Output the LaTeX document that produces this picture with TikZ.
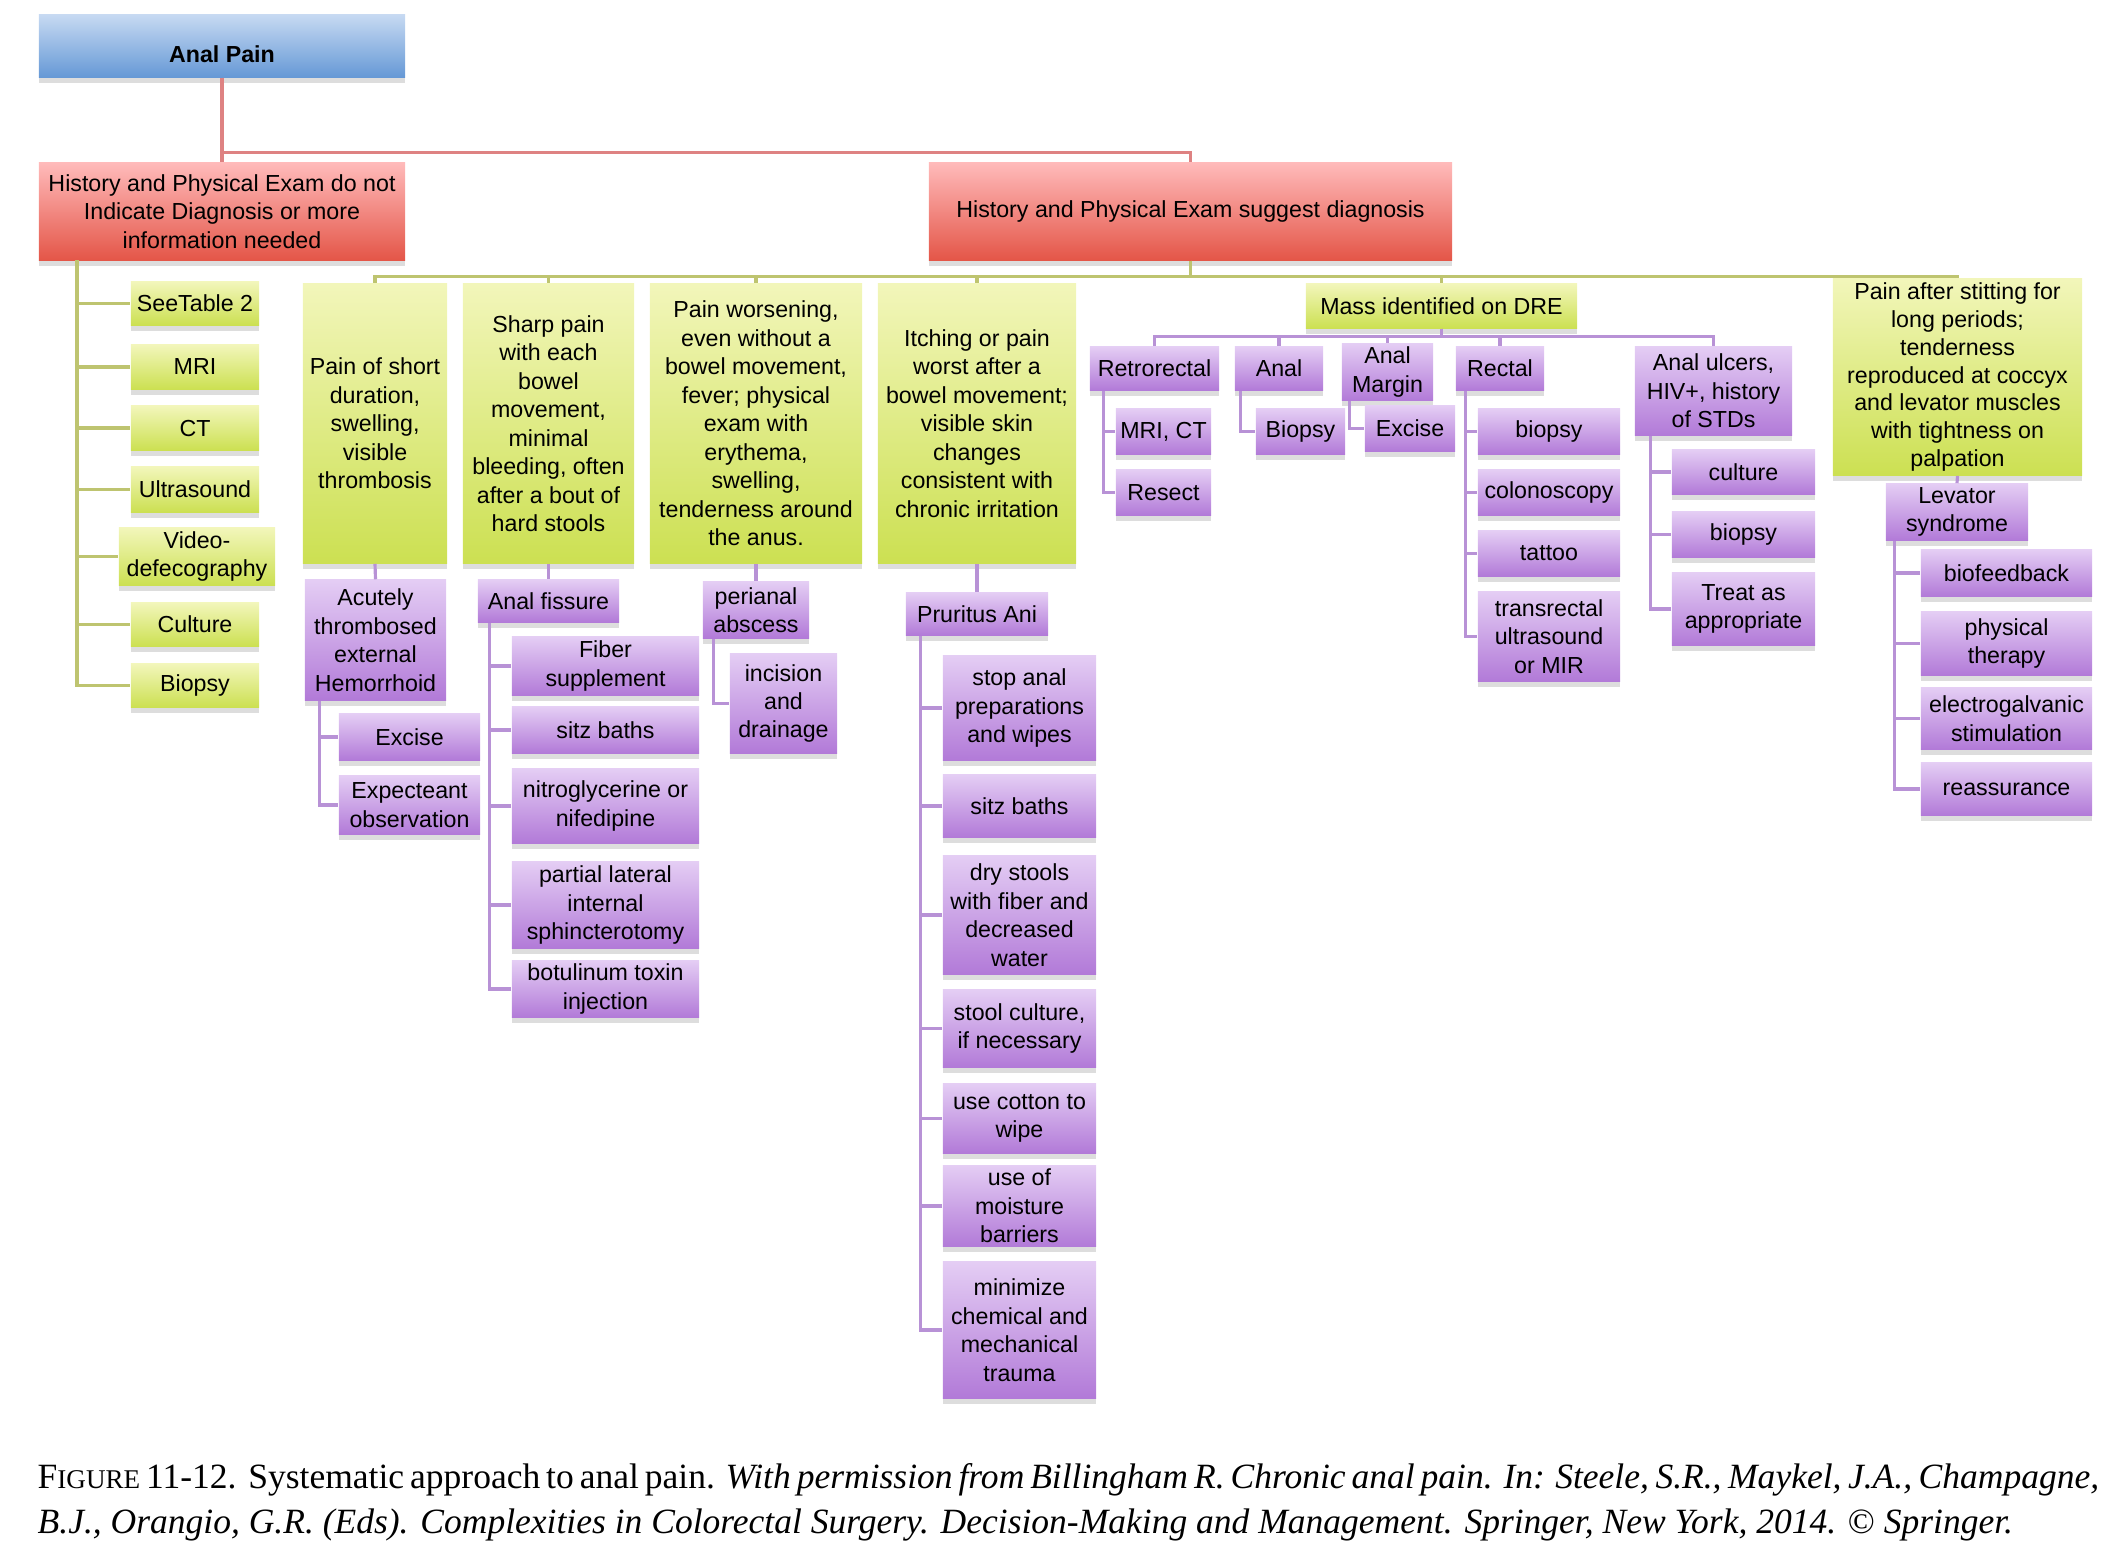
\documentclass[tikz,border=0pt]{standalone}
\usepackage{fontspec}
\setmainfont{Liberation Serif}
\setsansfont{Liberation Sans}
\usetikzlibrary{shadows}

\definecolor{bluetop}{RGB}{198,217,242}
\definecolor{bluebot}{RGB}{102,153,214}
\definecolor{redtop}{RGB}{255,186,186}
\definecolor{redbot}{RGB}{228,86,72}
\definecolor{greentop}{RGB}{242,246,186}
\definecolor{greenbot}{RGB}{204,224,82}
\definecolor{purptop}{RGB}{228,205,244}
\definecolor{purpbot}{RGB}{178,122,216}
\definecolor{redwire}{RGB}{222,130,130}
\definecolor{olivewire}{RGB}{190,196,112}
\definecolor{purpwire}{RGB}{184,146,214}

\tikzset{
  nodebox/.style={font=\sffamily\fontsize{6.6}{8.1}\selectfont, align=center, inner sep=1pt,
    drop shadow={opacity=0.22, fill=black!60, shadow xshift=0pt, shadow yshift=-1.6pt}},
  boxsize/.style 2 args={minimum width=#1mm, minimum height=#2mm},
  rootbox/.style={nodebox, top color=bluetop, bottom color=bluebot,
    font=\sffamily\bfseries\fontsize{6.6}{8.1}\selectfont, text height=9.3pt, text depth=0pt},
  redbox/.style={nodebox, top color=redtop, bottom color=redbot},
  greenbox/.style={nodebox, top color=greentop, bottom color=greenbot},
  purpbox/.style={nodebox, top color=purptop, bottom color=purpbot},
  redlink/.style={draw=redwire, line width=0.9pt},
  greenlink/.style={draw=olivewire, line width=0.9pt},
  purplink/.style={draw=purpwire, line width=0.9pt},
}

\begin{document}
\begin{tikzpicture}[x=0.01cm,y=-0.01cm]
\useasboundingbox (0,0) rectangle (2124,1557);

% top levels
\node[rootbox, boxsize={36.6}{6.2}] (root) at (222,46) {Anal Pain};
\node[redbox, boxsize={36.6}{9.7}] (nodx) at (222,211.5) {History and Physical Exam do not\\Indicate Diagnosis or more\\information needed};
\node[redbox, boxsize={52.3}{9.7}] (dx) at (1190.5,211.5) {History and Physical Exam suggest diagnosis};
\draw[redlink] (root.south) -- (nodx.north);
\draw[redlink] (root.south) -- ++(0,75) -| (dx.north);

% no diagnosis branch
\node[greenbox, boxsize={12.8}{4.3}] (table) at (195,303.5) {SeeTable 2};
\node[greenbox, boxsize={12.8}{4.4}] (mri) at (195,367) {MRI};
\node[greenbox, boxsize={12.8}{4.4}] (ct) at (195,428) {CT};
\node[greenbox, boxsize={12.8}{4.5}] (us) at (195,489.5) {Ultrasound};
\node[greenbox, boxsize={15.6}{5.7}] (video) at (197,556.5) {Video-\\defecography};
\node[greenbox, boxsize={12.8}{4.3}] (culture) at (195,624.5) {Culture};
\node[greenbox, boxsize={12.8}{4.3}] (biopsy) at (195,685.5) {Biopsy};
\coordinate (lspine) at (77,260);
\foreach \c in {table,mri,ct,us,video,culture,biopsy}
  \draw[greenlink] (lspine) |- (\c.west);

% diagnosis branch
\node[greenbox, boxsize={14.4}{27.9}] (short) at (375,423.5) {Pain of short\\duration,\\swelling,\\visible\\thrombosis};
\node[greenbox, boxsize={17.1}{27.9}] (sharp) at (548.5,423.5) {Sharp pain\\with each\\bowel\\movement,\\minimal\\bleeding, often\\after a bout of\\hard stools};
\node[greenbox, boxsize={21.2}{27.9}] (worse) at (756,423.5) {Pain worsening,\\even without a\\bowel movement,\\fever; physical\\exam with\\erythema,\\swelling,\\tenderness around\\the anus.};
\node[greenbox, boxsize={19.8}{27.9}] (itch) at (977,423.5) {Itching or pain\\worst after a\\bowel movement;\\visible skin\\changes\\consistent with\\chronic irritation};
\node[greenbox, boxsize={27.1}{4.4}] (mass) at (1441.5,306) {Mass identified on DRE};
\node[greenbox, boxsize={24.9}{19.3}, font=\sffamily\fontsize{6.6}{7.95}\selectfont] (sit) at (1957.5,377) {Pain after stitting for\\long periods;\\tenderness\\reproduced at coccyx\\and levator muscles\\with tightness on\\palpation};
\foreach \c in {short,sharp,worse,itch,mass,sit}
  \draw[greenlink] (dx.south) -- ++(0,16) -| (\c.north);

% hemorrhoid
\node[purpbox, boxsize={14.1}{12.0}] (hem) at (375.5,640) {Acutely\\thrombosed\\external\\Hemorrhoid};
\node[purpbox, boxsize={14.1}{4.6}] (excise) at (409.5,737) {Excise};
\node[purpbox, boxsize={14.1}{5.8}] (expect) at (409.5,805) {Expecteant\\observation};
\draw[purplink] (short.south) -- (hem.north);
\foreach \c in {excise,expect}
  \draw[purplink] ([xshift=1.5mm]hem.south west) |- (\c.west);

% fissure
\node[purpbox, boxsize={14.1}{4.2}] (fissure) at (548.5,601) {Anal fissure};
\node[purpbox, boxsize={18.7}{5.8}] (fiber) at (605.5,666) {Fiber\\supplement};
\node[purpbox, boxsize={18.7}{4.6}] (sitz) at (605.5,730) {sitz baths};
\node[purpbox, boxsize={18.7}{7.4}] (nitro) at (605.5,806) {nitroglycerine or\\nifedipine};
\node[purpbox, boxsize={18.7}{8.6}] (lis) at (605.5,905) {partial lateral\\internal\\sphincterotomy};
\node[purpbox, boxsize={18.7}{5.4}] (botox) at (605.5,989) {botulinum toxin\\injection};
\draw[purplink] (sharp.south) -- (fissure.north);
\foreach \c in {fiber,sitz,nitro,lis,botox}
  \draw[purplink] ([xshift=1.2mm]fissure.south west) |- (\c.west);

% abscess
\node[purpbox, boxsize={10.6}{5.6}] (abscess) at (756,610) {perianal\\abscess};
\node[purpbox, boxsize={10.7}{9.9}] (incision) at (783.5,703.5) {incision\\and\\drainage};
\draw[purplink] (worse.south) -- (abscess.north);
\draw[purplink] ([xshift=1.1mm]abscess.south west) |- (incision.west);

% pruritus
\node[purpbox, boxsize={14.2}{4.2}] (pruritus) at (977,614) {Pruritus Ani};
\node[purpbox, boxsize={15.3}{10.4}] (stop) at (1019.5,708) {stop anal\\preparations\\and wipes};
\node[purpbox, boxsize={15.3}{6.2}] (sitzb) at (1019.5,806) {sitz baths};
\node[purpbox, boxsize={15.3}{11.8}] (dry) at (1019.5,915) {dry stools\\with fiber and\\decreased\\water};
\node[purpbox, boxsize={15.3}{7.7}] (stool) at (1019.5,1028.5) {stool culture,\\if necessary};
\node[purpbox, boxsize={15.3}{6.9}] (cotton) at (1019.5,1118.5) {use cotton to\\wipe};
\node[purpbox, boxsize={15.3}{8.0}] (moist) at (1019.5,1206) {use of\\moisture\\barriers};
\node[purpbox, boxsize={15.3}{13.6}] (trauma) at (1019.5,1330) {minimize\\chemical and\\mechanical\\trauma};
\draw[purplink] (itch.south) -- (pruritus.north);
\foreach \c in {stop,sitzb,dry,stool,cotton,moist,trauma}
  \draw[purplink] ([xshift=1.5mm]pruritus.south west) |- (\c.west);

% mass on DRE
\node[purpbox, boxsize={12.9}{4.3}] (retro) at (1154.5,368.5) {Retrorectal};
\node[purpbox, boxsize={8.8}{4.3}] (anal) at (1279,368.5) {Anal};
\node[purpbox, boxsize={9.1}{5.6}] (margin) at (1387.5,372) {Anal\\Margin};
\node[purpbox, boxsize={8.8}{4.3}] (rectal) at (1500,368.5) {Rectal};
\node[purpbox, boxsize={15.7}{8.8}] (ulcers) at (1713.5,391) {Anal ulcers,\\HIV+, history\\of STDs};
\foreach \c in {retro,anal,margin,rectal,ulcers}
  \draw[purplink] (mass.south) -- ++(0,8) -| (\c.north);

\node[purpbox, boxsize={9.5}{4.5}] (mrict) at (1163.5,431.5) {MRI, CT};
\node[purpbox, boxsize={9.5}{4.5}] (resect) at (1163.5,492.5) {Resect};
\foreach \c in {mrict,resect}
  \draw[purplink] ([xshift=1.4mm]retro.south west) |- (\c.west);

\node[purpbox, boxsize={8.9}{4.5}] (analbx) at (1300.5,431.5) {Biopsy};
\draw[purplink] ([xshift=0.6mm]anal.south west) |- (analbx.west);

\node[purpbox, boxsize={9.0}{4.5}] (marginex) at (1410,428.5) {Excise};
\draw[purplink] ([xshift=0.8mm]margin.south west) |- (marginex.west);

\node[purpbox, boxsize={14.2}{4.5}] (rectbx) at (1549,431.5) {biopsy};
\node[purpbox, boxsize={14.2}{4.5}] (colon) at (1549,492.5) {colonoscopy};
\node[purpbox, boxsize={14.2}{4.5}] (tattoo) at (1549,553.5) {tattoo};
\node[purpbox, boxsize={14.2}{8.9}] (trus) at (1549,636.5) {transrectal\\ultrasound\\or MIR};
\foreach \c in {rectbx,colon,tattoo,trus}
  \draw[purplink] ([xshift=1.0mm]rectal.south west) |- (\c.west);

\node[purpbox, boxsize={14.3}{4.4}] (ulcult) at (1743.5,472) {culture};
\node[purpbox, boxsize={14.3}{4.5}] (ulbx) at (1743.5,534.5) {biopsy};
\node[purpbox, boxsize={14.3}{7.2}] (treat) at (1743.5,609) {Treat as\\appropriate};
\foreach \c in {ulcult,ulbx,treat}
  \draw[purplink] ([xshift=1.6mm]ulcers.south west) |- (\c.west);

% levator
\node[purpbox, boxsize={14.2}{5.2}] (levator) at (1957,512) {Levator\\syndrome};
\node[purpbox, boxsize={17.1}{4.6}] (biofb) at (2006.5,573) {biofeedback};
\node[purpbox, boxsize={17.1}{6.3}] (physio) at (2006.5,643.5) {physical\\therapy};
\node[purpbox, boxsize={17.1}{6.1}] (egs) at (2006.5,718.5) {electrogalvanic\\stimulation};
\node[purpbox, boxsize={17.1}{5.2}] (reass) at (2006.5,789) {reassurance};
\draw[purplink] (sit.south) -- (levator.north);
\foreach \c in {biofb,physio,egs,reass}
  \draw[purplink] ([xshift=0.9mm]levator.south west) |- (\c.west);

% caption
\node[anchor=north west, align=left, inner sep=0pt,
  font=\fontsize{10.1}{12.8}\selectfont] (caption) at (37,1463)
  {\makebox[20.56cm][s]{F{\fontsize{7.7}{9}\selectfont IGURE} 11-12.\ \ Systematic approach to anal pain. \textit{With permission from Billingham R. Chronic anal pain. In: Steele, S.R., Maykel, J.A., Champagne,}}\\
  \textit{B.J., Orangio, G.R. (Eds). Complexities in Colorectal Surgery. Decision-Making and Management. Springer, New York, 2014. \textup{©} Springer.}};
\end{tikzpicture}
\end{document}
